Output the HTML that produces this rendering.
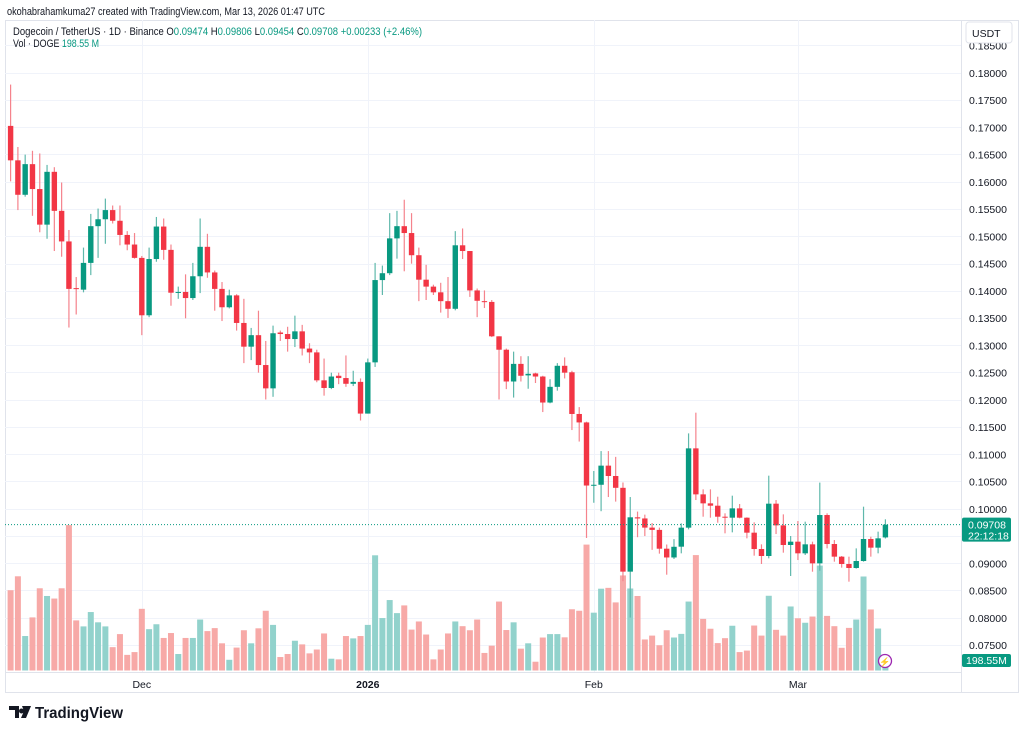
<!DOCTYPE html>
<html><head><meta charset="utf-8"><style>
html,body{margin:0;padding:0;background:#fff;}
svg{display:block;font-family:"Liberation Sans",sans-serif;}
</style></head><body>
<svg id="chart" width="1024" height="735" viewBox="0 0 1024 735" xmlns="http://www.w3.org/2000/svg">
<rect x="0" y="0" width="1024" height="735" fill="#ffffff"/>
<text x="7" y="15" font-size="11" fill="#131722" textLength="318" lengthAdjust="spacingAndGlyphs">okohabrahamkuma27 created with TradingView.com, Mar 13, 2026 01:47 UTC</text>
<rect x="5.5" y="20.5" width="1013" height="672" fill="none" stroke="#e0e3eb"/>
<g id="grid"></g>
<g id="volumes"></g>
<g id="candles"></g>
<line x1="961.5" y1="20" x2="961.5" y2="692" stroke="#e0e3eb"/>
<line x1="5" y1="672.5" x2="961" y2="672.5" stroke="#e0e3eb"/>
<g id="yaxis"></g>
<g id="xaxis"></g>
<rect x="966" y="22" width="46" height="21" rx="3" fill="#fff" stroke="#e0e3eb"/>
<text x="972" y="37" font-size="10.5" fill="#131722">USDT</text>
<g font-size="11">
<text x="13" y="35" fill="#131722" textLength="409" lengthAdjust="spacingAndGlyphs">Dogecoin / TetherUS · 1D · Binance  O<tspan fill="#089981">0.09474</tspan>  H<tspan fill="#089981">0.09806</tspan>  L<tspan fill="#089981">0.09454</tspan>  C<tspan fill="#089981">0.09708</tspan>  <tspan fill="#089981">+0.00233 (+2.46%)</tspan></text>
<text x="13" y="47" fill="#131722" textLength="86" lengthAdjust="spacingAndGlyphs">Vol · DOGE  <tspan fill="#089981">198.55 M</tspan></text>
</g>
<g>
<path d="M9 706 h10 v12 h-4 v-8 h-6z M22 706 h9 l-5 12 h-5 l3 -7 a2.5 2.5 0 1 1 0 -0.1z" fill="#131722"/>
<text x="35" y="718" font-size="15.5" font-weight="bold" fill="#131722" textLength="88" lengthAdjust="spacingAndGlyphs">TradingView</text>
</g>
</svg>
<script>
const startDate = [2025, 10, 13];
const opens = [0.17025,0.16393,0.15761,0.16323,0.15866,0.15213,0.16182,0.15466,0.14905,0.14048,0.1402,0.14511,0.15185,0.15312,0.1548,0.15284,0.15024,0.14848,0.14603,0.1355,0.14582,0.15178,0.1475,0.13964,0.13978,0.13866,0.14266,0.14806,0.14336,0.14034,0.13697,0.13915,0.13409,0.12974,0.13185,0.12637,0.12209,0.13234,0.13206,0.13114,0.13255,0.12939,0.12869,0.12356,0.12216,0.1244,0.12398,0.12293,0.12328,0.11746,0.12686,0.14196,0.14322,0.14961,0.15185,0.15059,0.14652,0.14203,0.14076,0.13971,0.13809,0.13669,0.14834,0.14729,0.14006,0.13809,0.13795,0.13164,0.12918,0.12335,0.12658,0.12447,0.12483,0.12426,0.11949,0.12237,0.12623,0.12504,0.11739,0.11584,0.10426,0.1044,0.10791,0.10601,0.10384,0.08846,0.09843,0.09822,0.09654,0.09612,0.09267,0.09106,0.09304,0.09653,0.11108,0.10264,0.10099,0.10056,0.09854,0.09836,0.10007,0.09836,0.09561,0.09261,0.09133,0.10093,0.09695,0.09335,0.09396,0.09182,0.09347,0.08998,0.09885,0.09353,0.09121,0.08986,0.08913,0.09041,0.09445,0.09286,0.09474];
const highs = [0.17783,0.16638,0.16498,0.16568,0.16519,0.16309,0.16267,0.15986,0.15115,0.14252,0.14792,0.1541,0.15508,0.15691,0.15564,0.15564,0.15094,0.15059,0.14638,0.14792,0.15354,0.15326,0.14848,0.14076,0.14301,0.14511,0.15326,0.15045,0.14371,0.1416,0.1402,0.13936,0.13852,0.13318,0.13634,0.13079,0.1336,0.13269,0.13339,0.13543,0.13374,0.13037,0.12918,0.12756,0.12497,0.12497,0.12813,0.12532,0.12391,0.12756,0.14511,0.14462,0.15424,0.15466,0.1567,0.15424,0.14792,0.14476,0.14111,0.14146,0.14252,0.15094,0.15143,0.14729,0.14041,0.14006,0.1383,0.13164,0.12939,0.12883,0.12799,0.12799,0.12497,0.1244,0.12377,0.12672,0.12777,0.12532,0.11865,0.11598,0.10693,0.11058,0.11058,0.10952,0.10482,0.10215,0.09948,0.09892,0.09738,0.09654,0.09344,0.09443,0.09732,0.11383,0.11763,0.10356,0.10356,0.10221,0.09916,0.1024,0.10087,0.09842,0.09751,0.09347,0.10607,0.1016,0.09897,0.0950,0.09775,0.09763,0.09396,0.1048,0.09916,0.09426,0.09133,0.09121,0.09273,0.10038,0.09487,0.0958,0.09806];
const lows = [0.16007,0.1548,0.15726,0.15375,0.15073,0.14954,0.14729,0.14624,0.13325,0.13564,0.13971,0.14287,0.14603,0.14862,0.15234,0.14834,0.14743,0.14589,0.13185,0.13515,0.14532,0.14568,0.13725,0.13852,0.13494,0.1383,0.13957,0.14238,0.13634,0.13444,0.13676,0.13269,0.12672,0.12728,0.12497,0.12005,0.12054,0.13079,0.12883,0.12967,0.12813,0.12672,0.12321,0.12075,0.12195,0.12286,0.12237,0.12251,0.11619,0.11746,0.12602,0.13922,0.14287,0.14589,0.14357,0.14497,0.13809,0.1383,0.13922,0.13599,0.13501,0.13641,0.14582,0.13887,0.13515,0.13683,0.1315,0.12005,0.12195,0.1204,0.12335,0.12202,0.12307,0.11774,0.11935,0.12167,0.12391,0.11444,0.11233,0.09464,0.1011,0.09955,0.10215,0.10131,0.08671,0.08004,0.09478,0.09499,0.09246,0.09176,0.0879,0.09078,0.09182,0.09622,0.1016,0.09854,0.09836,0.09744,0.09549,0.09567,0.09824,0.09457,0.09139,0.08986,0.0909,0.09536,0.09194,0.08766,0.09059,0.09151,0.08845,0.08864,0.09273,0.09029,0.08919,0.08662,0.08901,0.09029,0.09121,0.09182,0.09454];
const closes = [0.16393,0.15761,0.16323,0.15866,0.15213,0.16182,0.15466,0.14905,0.14034,0.14034,0.14511,0.15185,0.15312,0.1548,0.15284,0.15024,0.14848,0.14603,0.1355,0.14582,0.15178,0.1475,0.13964,0.13978,0.13866,0.14266,0.14806,0.14336,0.14034,0.13697,0.13915,0.13409,0.12974,0.13185,0.12637,0.12209,0.1322,0.13206,0.13114,0.13255,0.12939,0.12869,0.12356,0.12216,0.12426,0.12398,0.12293,0.12328,0.11746,0.12686,0.14196,0.14322,0.14961,0.15185,0.15059,0.14652,0.14203,0.14076,0.13971,0.13809,0.13669,0.14834,0.14729,0.14006,0.13816,0.13795,0.13164,0.12918,0.12335,0.12658,0.1244,0.12476,0.12426,0.11949,0.12237,0.12623,0.12497,0.11739,0.11584,0.10426,0.1044,0.10791,0.10601,0.10384,0.08846,0.09843,0.09822,0.09654,0.09612,0.09267,0.09106,0.09302,0.09653,0.11108,0.10264,0.10099,0.10056,0.09854,0.09842,0.10007,0.09836,0.09561,0.09261,0.09133,0.10093,0.09695,0.09335,0.09396,0.09182,0.09347,0.08998,0.09885,0.09353,0.09121,0.08986,0.08913,0.09041,0.09445,0.09286,0.09457,0.09708];
const volumes = [375,440,161,248,384,348,336,384,679,234,206,273,225,206,109,170,73,86,288,193,216,152,175,77,152,152,238,184,198,127,50,107,188,127,197,279,213,63,77,139,122,80,98,173,55,52,161,150,161,213,538,245,329,268,304,191,229,168,52,98,173,229,207,188,238,82,116,322,189,225,102,127,41,154,170,170,155,286,279,588,270,382,386,318,444,383,348,145,163,118,188,154,171,322,539,241,195,128,151,209,86,93,210,163,349,190,163,299,244,223,252,490,255,207,106,199,238,439,285,196,47];
const priceTicks = [0.075,0.08,0.085,0.09,0.095,0.1,0.105,0.11,0.115,0.12,0.125,0.13,0.135,0.14,0.145,0.15,0.155,0.16,0.165,0.17,0.175,0.18,0.185];
const timeLabels = ["Dec","2026","Feb","Mar"];
const timeLabelIndex = [18,49,80,108];

const NS = "http://www.w3.org/2000/svg";
const X0 = 10.6, STEP = 7.29;
const xs = i => X0 + i * STEP;
const ys = p => 100 + (0.175 - p) * 5450;
const VOL_BASE = 670.5, VOL_PX = 1 / 4.67;
const vh = v => v * VOL_PX;
function mk(tag, attrs, parent){const e=document.createElementNS(NS,tag);for(const k in attrs)e.setAttribute(k,attrs[k]);parent.appendChild(e);return e;}
const grid=document.getElementById('grid'), vg=document.getElementById('volumes'), cg=document.getElementById('candles');
const ya=document.getElementById('yaxis'), xa=document.getElementById('xaxis');
const GREEN="#089981", RED="#f23645";

priceTicks.forEach(t=>{
  const y=Math.round(ys(t))+0.5;
  const l=mk('line',{x1:5,x2:961,y1:y,y2:y,stroke:'#f0f3fa'},grid);
  
  
  const tx=mk('text',{x:969,y:ys(t)+4,'font-size':'10.5',fill:'#131722'},ya);
  tx.textContent=t.toFixed(5);
  
  
});
timeLabels.forEach((s,k)=>{
  const x=Math.round(xs(timeLabelIndex[k]))+0.5;
  const l=mk('line',{x1:x,x2:x,y1:20,y2:672,stroke:'#f0f3fa'},grid);
  
  
  const tx=mk('text',{x:xs(timeLabelIndex[k]),y:688,'font-size':'10.5','text-anchor':'middle',fill:'#131722','font-weight':s==="2026"?'bold':'normal'},xa);
  tx.textContent=s;
  
  
});

volumes.forEach((v,i)=>{
  const up=closes[i]>=opens[i];
  const h=vh(v);
  const r=mk('rect',{x:xs(i)-3,y:VOL_BASE-h,width:6,height:h,fill:up?'#92d2cc':'#f7a9a7'},vg);
  
  
});

opens.forEach((o,i)=>{
  const c=closes[i], up=c>=o, col=up?GREEN:RED, x=xs(i);
  const g=mk('g',{},cg);
  
  
  mk('line',{x1:x,x2:x,y1:ys(highs[i]),y2:ys(lows[i]),stroke:up?'#5fb8ab':'#f5838c','stroke-width':1.2},g);
  const top=ys(Math.max(o,c)), bot=ys(Math.min(o,c));
  mk('rect',{x:x-2.7,y:top,width:5.4,height:Math.max(1,bot-top),fill:col},g);
});

const last=closes[closes.length-1], ly=ys(last);
const pl=mk('line',{x1:5,x2:961,y1:ly,y2:ly,stroke:GREEN,'stroke-dasharray':'1 2','stroke-width':1},cg);


const pb=mk('rect',{x:962,y:ly-7,width:49,height:24,rx:2,fill:GREEN},ya);


const pt=mk('text',{x:968,y:ly+4,'font-size':'10.5',fill:'#fff'},ya); pt.textContent=last.toFixed(5);
const ct=mk('text',{x:968,y:ly+15,'font-size':'10.5',fill:'#fff'},ya); ct.textContent="22:12:18";
const vb=mk('rect',{x:962,y:654,width:49,height:13,rx:2,fill:GREEN},ya);


const vt=mk('text',{x:966,y:664,'font-size':'10.5',fill:'#fff'},ya); vt.textContent="198.55M";
const ic=mk('circle',{cx:885,cy:661,r:6.5,fill:'#fff',stroke:'#9c27b0','stroke-width':1.3},cg);


const it=mk('text',{x:885,y:665,'font-size':'9','text-anchor':'middle',fill:'#9c27b0'},cg); it.textContent="⚡";
</script>
</body></html>
